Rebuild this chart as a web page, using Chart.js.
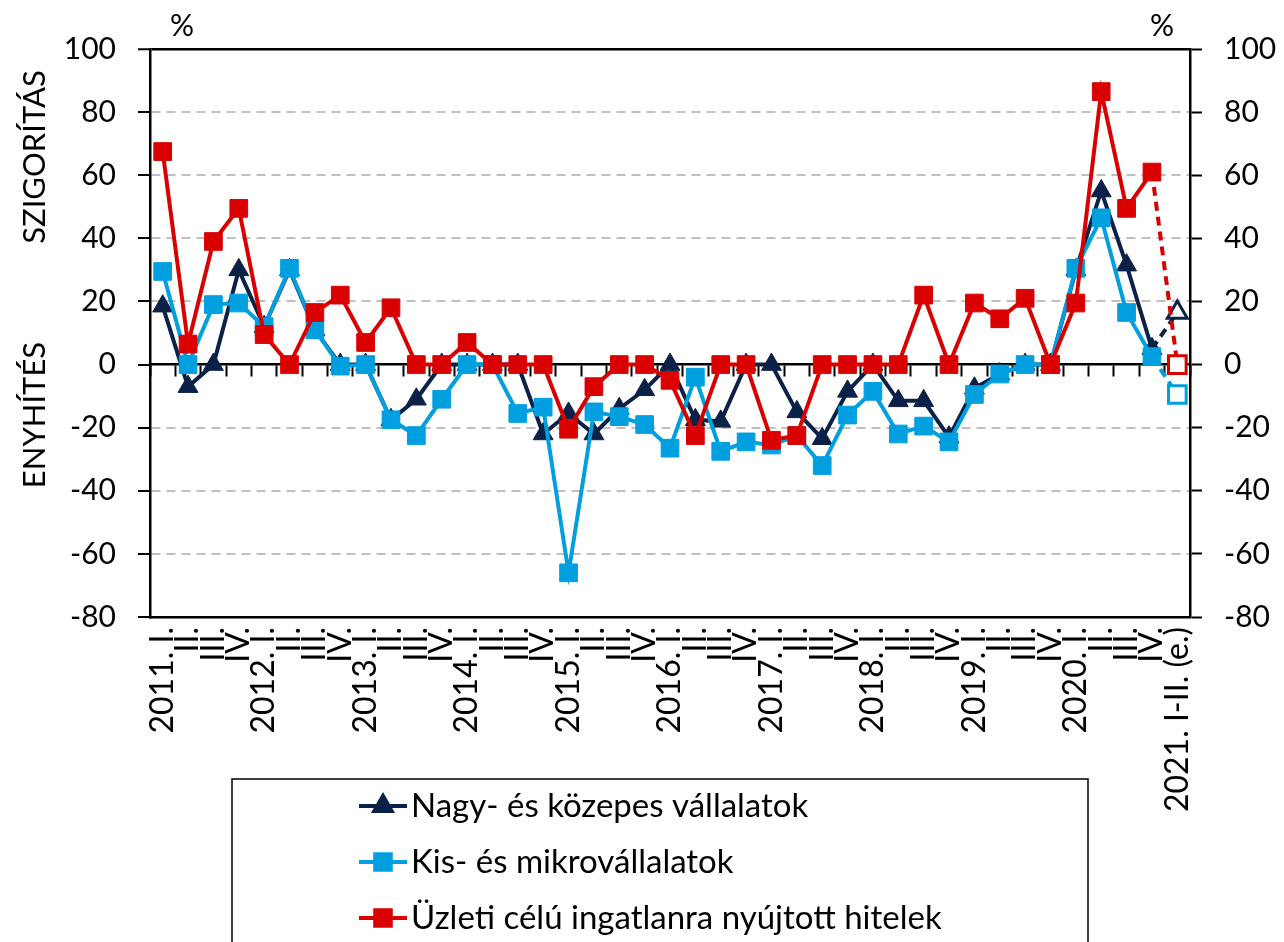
<!DOCTYPE html>
<html lang="hu">
<head>
<meta charset="UTF-8">
<title>Hitelkínálati feltételek</title>
<script src="https://cdn.jsdelivr.net/npm/chart.js"></script>
<style>
  html, body { margin: 0; padding: 0; background: #fff; }
  #wrap { width: 1284px; height: 942px; position: relative; }
</style>
</head>
<body>
<div id="wrap"><canvas id="chart"></canvas></div>
<script>
// Kategóriák (negyedévek)
const labels = [
  '2011. I.', 'II.', 'III.', 'IV.',
  '2012. I.', 'II.', 'III.', 'IV.',
  '2013. I.', 'II.', 'III.', 'IV.',
  '2014. I.', 'II.', 'III.', 'IV.',
  '2015. I.', 'II.', 'III.', 'IV.',
  '2016. I.', 'II.', 'III.', 'IV.',
  '2017. I.', 'II.', 'III.', 'IV.',
  '2018. I.', 'II.', 'III.', 'IV.',
  '2019. I.', 'II.', 'III.', 'IV.',
  '2020. I.', 'II.', 'III.', 'IV.',
  '2021. I-II. (e.)'
];

// Nettó arányok, %
const nagyKozepes = [18.5, -7, 0, 30, 12, 30, 11, 0, 0, -17.5, -11, 0, 0, 0, 0, -22,
  -15.5, -22, -14, -8, 0, -17.5, -18, 0, 0, -15, -23.5, -8.5, 0, -11.5, -11.5, -23,
  -7.5, -3, 0, 0, 30, 55, 31.5, 5, 16.5];
const kisMikro = [29.5, 0, 19, 19.5, 12, 30.5, 11, -0.5, 0, -17.5, -22.5, -11, 0, 0, -15.5, -13.5,
  -66, -15, -16.5, -19, -26.5, -4, -27.5, -24.5, -25.5, -22.5, -32, -16, -8.5, -22, -19.5, -24.5,
  -9.5, -3, 0, 0, 30.5, 46.5, 16.5, 2.5, -9.5];
const ingatlan = [67.5, 6.5, 39, 49.5, 9.5, 0, 16.5, 22, 7, 18, 0, 0, 7, 0, 0, 0,
  -20.5, -7, 0, 0, -5, -22.5, 0, 0, -24, -22.5, 0, 0, 0, 0, 22, 0,
  19.5, 14.5, 21, 0, 19.5, 86.5, 49.5, 61, 0];

const yTicks = [100, 80, 60, 40, 20, 0, -20, -40, -60, -80];

const NAVY = '#0C2148';
const BLUE = '#009FDF';
const RED = '#DA0000';
const FONT = 'Lato, "Open Sans", sans-serif';

const lastIdx = labels.length - 1;

function series(label, data, color, style, radius, order) {
  return {
    label, data, order,
    xAxisID: 'x', yAxisID: 'y',
    borderColor: color,
    backgroundColor: color,
    borderWidth: 4,
    tension: 0,
    pointStyle: style,
    pointRadius: radius,
    pointHoverRadius: radius,
    pointBackgroundColor: data.map((v, i) => i === lastIdx ? '#fff' : color),
    pointBorderColor: color,
    pointBorderWidth: data.map((v, i) => i === lastIdx ? 3 : 1),
    segment: {
      borderDash: ctx => ctx.p1DataIndex === lastIdx ? [9, 6] : undefined
    }
  };
}

// Jelmagyarázat, tengelyfeliratok, % jelek
const extras = {
  id: 'extras',
  afterDraw(chart) {
    const ctx = chart.ctx;
    const area = chart.chartArea;
    ctx.save();
    ctx.fillStyle = '#000';
    ctx.textBaseline = 'middle';
    ctx.textAlign = 'center';
    ctx.font = '30px ' + FONT;
    ctx.fillText('%', area.left + 32, 26);
    ctx.fillText('%', area.right - 28, 26);

    ctx.font = '31px ' + FONT;
    ctx.save();
    ctx.translate(35, 157);
    ctx.rotate(-Math.PI / 2);
    ctx.fillText('SZIGORÍTÁS', 0, 0);
    ctx.restore();
    ctx.save();
    ctx.translate(35, 415);
    ctx.rotate(-Math.PI / 2);
    ctx.fillText('ENYHÍTÉS', 0, 0);
    ctx.restore();

    // legend box
    ctx.lineWidth = 1.5;
    ctx.strokeStyle = '#000';
    ctx.strokeRect(232, 779, 856, 220);
    const items = chart.data.datasets.slice().sort((a, b) => b.order - a.order);
    const rows = [806, 862, 918];
    items.forEach((ds, i) => {
      const y = rows[i];
      ctx.beginPath();
      ctx.lineWidth = 4;
      ctx.strokeStyle = ds.borderColor;
      ctx.moveTo(359, y);
      ctx.lineTo(407, y);
      ctx.stroke();
      ctx.fillStyle = ds.borderColor;
      ctx.strokeStyle = ds.borderColor;
      Chart.helpers.drawPoint(ctx, {
        pointStyle: ds.pointStyle,
        radius: ds.pointStyle === 'triangle' ? 10 : 11,
        borderWidth: 1,
        rotation: 0
      }, 383, y);
      ctx.fillStyle = '#000';
      ctx.textAlign = 'left';
      ctx.font = '33px ' + FONT;
      ctx.fillText(ds.label, 411, y);
    });
    ctx.restore();
  }
};

const ctx = document.getElementById('chart').getContext('2d');
new Chart(ctx, {
  type: 'line',
  data: {
    labels: labels,
    datasets: [
      series('Nagy- és közepes vállalatok', nagyKozepes, NAVY, 'triangle', 11.5, 3),
      series('Kis- és mikrovállalatok', kisMikro, BLUE, 'rect', 12.5, 2),
      series('Üzleti célú ingatlanra nyújtott hitelek', ingatlan, RED, 'rect', 12.5, 1)
    ]
  },
  options: {
    responsive: true,
    maintainAspectRatio: false,
    animation: false,
    layout: { padding: { top: 49, left: 0, right: 0, bottom: 0 } },
    plugins: {
      legend: { display: false },
      tooltip: { enabled: false }
    },
    scales: {
      x: {
        type: 'category',
        position: 'bottom',
        offset: true,
        grid: { display: false, drawTicks: false },
        border: { display: true, color: '#000', width: 2.5 },
        ticks: {
          autoSkip: false,
          maxRotation: 90,
          minRotation: 90,
          padding: 10,
          color: '#000',
          font: { family: FONT, size: 32 }
        },
        afterFit: s => { s.height = 325; }
      },
      x0: {
        type: 'category',
        position: { y: 0 },
        offset: true,
        grid: {
          offset: true,
          drawOnChartArea: false,
          drawTicks: true,
          tickLength: 11,
          tickColor: '#000',
          tickWidth: 2,
          color: '#000'
        },
        border: { display: true, color: '#000', width: 2.5 },
        ticks: { display: false }
      },
      y: {
        position: 'left',
        min: -80,
        max: 100,
        afterBuildTicks: s => { s.ticks = yTicks.map(v => ({ value: v })); },
        grid: {
          color: c => c.tick && c.tick.value === 100 ? '#000' : (c.tick && c.tick.value === 0 ? 'rgba(0,0,0,0)' : '#BFBFBF'),
          lineWidth: c => c.tick && c.tick.value === 100 ? 2.5 : 2,
          tickColor: '#000',
          tickWidth: 2,
          tickLength: 12
        },
        border: {
          display: true, color: '#000', width: 2.5,
          dash: c => c.tick && c.tick.value === 100 ? [] : [9, 6]
        },
        ticks: {
          padding: 22,
          color: '#000',
          font: { family: FONT, size: 30 }
        },
        afterFit: s => { s.width = 150; }
      },
      y2: {
        position: 'right',
        min: -80,
        max: 100,
        afterBuildTicks: s => { s.ticks = yTicks.map(v => ({ value: v })); },
        grid: {
          drawOnChartArea: false,
          tickColor: '#000',
          tickWidth: 2,
          tickLength: 12
        },
        border: { display: true, color: '#000', width: 2.5 },
        ticks: {
          padding: 22,
          color: '#000',
          font: { family: FONT, size: 30 }
        },
        afterFit: s => { s.width = 94; }
      }
    }
  },
  plugins: [extras]
});
</script>
</body>
</html>
